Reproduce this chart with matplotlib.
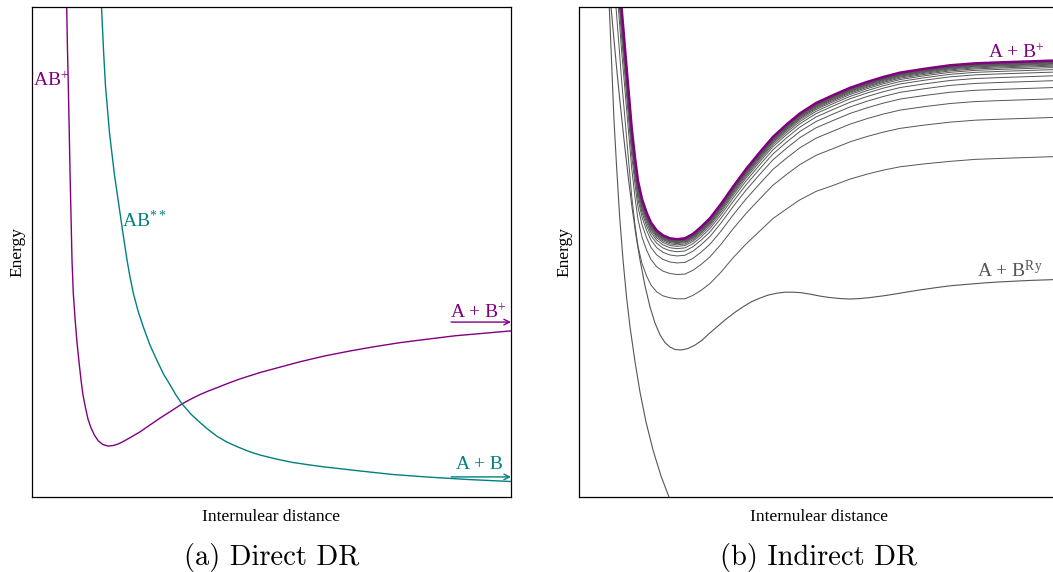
import numpy as np
import matplotlib.pyplot as plt

plt.rcParams['font.family'] = 'Liberation Serif'
plt.rcParams['mathtext.fontset'] = 'custom'
plt.rcParams['mathtext.rm'] = 'Liberation Serif'
plt.rcParams['mathtext.it'] = 'Liberation Serif:italic'

PURPLE = '#800080'
TEAL = '#008080'
GREY = '#555555'

# (a) direct DR: bound ion curve and repulsive doubly excited curve
ion_a_r = [0.724, 0.741, 0.758, 0.777, 0.793, 0.814, 0.835, 0.862, 0.898, 0.939,
           0.981, 1.023, 1.065, 1.117, 1.169, 1.232, 1.305, 1.388, 1.482, 1.587,
           1.691, 1.795, 1.900, 2.046, 2.255, 2.463, 2.672, 2.881, 3.132, 3.319,
           3.507, 3.674, 3.862, 4.092, 4.342, 4.760, 5.177, 5.595, 6.117, 6.639,
           7.161, 7.683, 8.246, 8.831, 9.415, 10.0]
ion_a_e = [10.0, 9.12, 8.39, 7.49, 6.67, 5.76, 4.84, 4.16, 3.65, 3.16,
           2.76, 2.39, 2.08, 1.82, 1.59, 1.41, 1.26, 1.14, 1.07, 1.04,
           1.05, 1.08, 1.13, 1.21, 1.33, 1.47, 1.61, 1.74, 1.90, 2.00,
           2.09, 2.16, 2.23, 2.32, 2.41, 2.54, 2.65, 2.76, 2.88, 2.98,
           3.07, 3.15, 3.22, 3.29, 3.34, 3.39]

dex_r = [1.451, 1.493, 1.534, 1.618, 1.722, 1.837, 1.910, 1.983, 2.046, 2.115,
         2.213, 2.324, 2.463, 2.603, 2.745, 2.881, 3.006, 3.132, 3.319, 3.507,
         3.674, 3.862, 4.071, 4.301, 4.530, 4.760, 5.094, 5.449, 5.804, 6.117,
         6.493, 6.848, 7.537, 8.246, 9.102, 10.0]
dex_e = [10.0, 9.12, 8.39, 7.43, 6.57, 5.80, 5.31, 4.84, 4.49, 4.16,
         3.80, 3.47, 3.10, 2.80, 2.51, 2.29, 2.08, 1.90, 1.69, 1.52,
         1.38, 1.24, 1.12, 1.02, 0.929, 0.857, 0.776, 0.704, 0.653, 0.612,
         0.571, 0.531, 0.459, 0.408, 0.357, 0.316]

# (b) indirect DR: ion curve, Rydberg series below it, dissociative curve
ion_b_r = [0.729, 0.792, 0.844, 0.885, 0.938, 0.994, 1.042, 1.098, 1.167, 1.229,
           1.313, 1.410, 1.500, 1.619, 1.750, 1.896, 2.042, 2.208, 2.375, 2.542,
           2.729, 2.958, 3.208, 3.479, 3.771, 4.042, 4.333, 4.604, 4.938, 5.292,
           5.646, 6.0, 6.333, 6.688, 7.208, 7.729, 8.25, 8.771, 9.396, 10.0]
ion_b_e = [11.98, 11.20, 10.55, 10.0, 9.39, 8.73, 8.18, 7.53, 6.92, 6.45,
           6.08, 5.80, 5.60, 5.44, 5.34, 5.28, 5.26, 5.28, 5.37, 5.51,
           5.69, 5.98, 6.33, 6.69, 7.04, 7.35, 7.61, 7.83, 8.04, 8.20,
           8.35, 8.47, 8.57, 8.66, 8.74, 8.81, 8.85, 8.87, 8.89, 8.91]
# relative binding of the Rydberg states along the ion grid
ryd_profile = [0.75, 0.75, 0.75, 0.75, 0.74, 0.73, 0.72, 0.71, 0.70, 0.68,
               0.67, 0.66, 0.65, 0.64, 0.63, 0.62, 0.62, 0.63, 0.64, 0.66,
               0.68, 0.71, 0.74, 0.78, 0.82, 0.85, 0.88, 0.90, 0.92, 0.94,
               0.95, 0.96, 0.97, 0.98, 0.99, 1.0, 1.0, 1.0, 1.0, 1.0]
# binding energy of each Rydberg state at large distance
ryd_depth = [1.96, 1.16, 0.78, 0.55, 0.41, 0.31, 0.235, 0.184, 0.143, 0.114,
             0.092, 0.073, 0.059, 0.047, 0.037, 0.029, 0.020]

ry_r = [0.667, 0.729, 0.792, 0.865, 0.938, 1.021, 1.104, 1.188, 1.271, 1.375,
        1.479, 1.583, 1.688, 1.792, 1.896, 2.0, 2.125, 2.271, 2.417, 2.563,
        2.729, 2.896, 3.063, 3.250, 3.417, 3.583, 3.771, 3.938, 4.125, 4.292,
        4.458, 4.625, 4.813, 5.021, 5.229, 5.438, 5.646, 5.854, 6.063, 6.375,
        6.688, 7.063, 7.417, 7.729, 8.083, 8.458, 8.771, 9.396, 10.0]
ry_e = [10.0, 9.33, 8.67, 7.96, 7.29, 6.57, 5.92, 5.33, 4.84, 4.31,
        3.88, 3.55, 3.31, 3.15, 3.06, 3.01, 3.00, 3.03, 3.10, 3.20,
        3.35, 3.49, 3.63, 3.77, 3.88, 3.98, 4.06, 4.12, 4.16, 4.18,
        4.18, 4.17, 4.14, 4.10, 4.07, 4.05, 4.04, 4.05, 4.07, 4.11,
        4.16, 4.22, 4.27, 4.31, 4.34, 4.37, 4.39, 4.42, 4.44]

rep_r = [0.631, 0.677, 0.729, 0.781, 0.844, 0.917, 0.990, 1.063, 1.167, 1.271,
         1.396, 1.542, 1.708, 1.875, 1.938]
rep_e = [10.0, 8.92, 7.69, 6.78, 5.76, 4.84, 4.08, 3.47, 2.76, 2.14,
         1.53, 0.959, 0.429, 0.0, -0.163]

fig = plt.figure(figsize=(10.53, 5.72), dpi=100)
ax_a = fig.add_axes([32 / 1053, 75 / 572, 479 / 1053, 490 / 572])
ax_b = fig.add_axes([579 / 1053, 75 / 572, 480 / 1053, 490 / 572])

for ax in (ax_a, ax_b):
    ax.set_xlim(0, 10)
    ax.set_ylim(0, 10)
    ax.set_xticks([])
    ax.set_yticks([])
    ax.set_xlabel('Internulear distance', fontsize=12.5, labelpad=8.5)
    ax.set_ylabel('Energy', fontsize=12.5, labelpad=4.5)
    for sp in ax.spines.values():
        sp.set_linewidth(0.9)

# panel (a)
ax_a.plot(ion_a_r, ion_a_e, color=PURPLE, lw=1.0)
ax_a.plot(dex_r, dex_e, color=TEAL, lw=1.0)
ax_a.text(0.02, 8.39, r'AB$^{+}$', color=PURPLE, fontsize=14, va='baseline')
ax_a.text(1.88, 5.51, r'AB$^{**}$', color=TEAL, fontsize=14, va='baseline')
ax_a.text(8.73, 3.65, r'A + B$^{+}$', color=PURPLE, fontsize=14, va='baseline')
ax_a.text(8.85, 0.57, 'A + B', color=TEAL, fontsize=14, va='baseline')
ax_a.annotate('', xy=(10, 3.57), xytext=(8.75, 3.57),
              arrowprops=dict(arrowstyle='->', color=PURPLE, lw=1.0, shrinkA=0, shrinkB=0))
ax_a.annotate('', xy=(10, 0.41), xytext=(8.75, 0.41),
              arrowprops=dict(arrowstyle='->', color=TEAL, lw=1.0, shrinkA=0, shrinkB=0))

# panel (b)
ion_b = np.array(ion_b_e)
prof = np.array(ryd_profile)
for d in ryd_depth:
    ax_b.plot(ion_b_r, ion_b - d * prof, color=GREY, lw=0.7)
ax_b.plot(ry_r, ry_e, color=GREY, lw=0.8)
ax_b.plot(rep_r, rep_e, color=GREY, lw=0.8)
ax_b.plot(ion_b_r, ion_b_e, color=PURPLE, lw=1.8)
ax_b.text(8.52, 8.96, r'A + B$^{+}$', color=PURPLE, fontsize=14, va='baseline')
ax_b.text(8.29, 4.48, r'A + B$^{\mathrm{Ry}}$', color=GREY, fontsize=14, va='baseline')

fig.text(271.5 / 1053, 1 - 557 / 572, '(a) Direct DR', family='cmr10', fontsize=20.5,
         ha='center', va='center')
fig.text(819 / 1053, 1 - 557 / 572, '(b) Indirect DR', family='cmr10', fontsize=20.5,
         ha='center', va='center')

fig.savefig('out.png', dpi=100)
